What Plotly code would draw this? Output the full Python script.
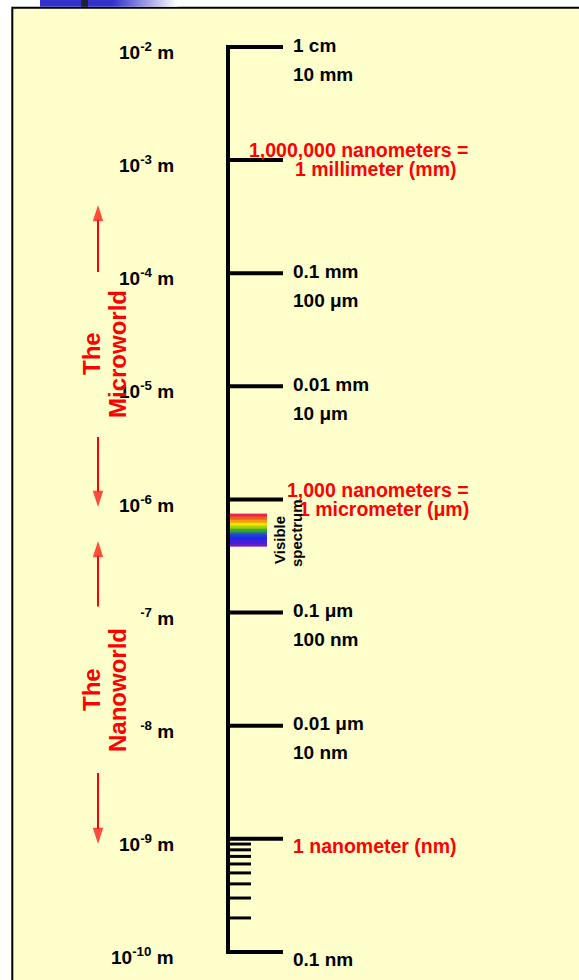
import math
import plotly.graph_objects as go

# ---------------- data ----------------
EXPONENTS = [-2, -3, -4, -5, -6, -7, -8, -9, -10]
DECADE_M = [10.0 ** e for e in EXPONENTS]
LEFT_LABELS = ["10<sup>-2</sup> m", "10<sup>-3</sup> m", "10<sup>-4</sup> m", "10<sup>-5</sup> m",
               "10<sup>-6</sup> m", "10<sup>-7</sup> m", "10<sup>-8</sup> m", "10<sup>-9</sup> m",
               "10<sup>-10</sup> m"]
RIGHT_LINE1 = ["1 cm", "1,000,000 nanometers =", "0.1 mm", "0.01 mm", "1,000 nanometers =",
               "0.1 μm", "0.01 μm", "1 nanometer (nm)", "0.1 nm"]
RIGHT_LINE2 = ["10 mm", "1 millimeter (mm)", "100 μm", "10 μm", "1 micrometer (μm)",
               "100 nm", "10 nm", "", ""]
IS_RED = [False, True, False, False, True, False, False, True, False]
MINOR_M = [9e-10, 8e-10, 7e-10, 6e-10, 5e-10, 4e-10, 3e-10, 2e-10]

# visible spectrum bands (nm edges) and colours, violet -> red
SPECTRUM_EDGES_NM = [380, 410, 440, 465, 495, 525, 555, 590, 625, 660, 700, 730, 750]
SPECTRUM_COLORS = ["#6A1FC4", "#4020DC", "#2424E4", "#2040D8", "#24806A", "#38A838",
                   "#A8D008", "#F4E400", "#F49A10", "#F06020", "#EC3030", "#DC2070"]

WORLDS = ["Microworld", "Nanoworld"]

# ---------------- style / layout constants ----------------
FONT = "Liberation Sans, Arial, sans-serif"
BG = "#FFFFCC"
RED = "#FF0000"
W, H = 579, 980
TOP_PX, PX_PER_DEC = 47.0, 113.125


def px2log(p):
    return -2.0 - (p - TOP_PX) / PX_PER_DEC


def px2paper(p):
    return 1.0 - p / H


RULER_X, MAJOR_X, MINOR_X = 228, 283, 251

fig = go.Figure()

# ruler spine plus end ticks
fig.add_trace(go.Scatter(
    x=[MAJOR_X, RULER_X, RULER_X, MAJOR_X],
    y=[DECADE_M[0], DECADE_M[0], DECADE_M[-1], DECADE_M[-1]],
    mode="lines", line=dict(color="black", width=4), hoverinfo="skip", showlegend=False))

# inner major ticks
mx, my = [], []
for v in DECADE_M[1:-1]:
    mx += [RULER_X, MAJOR_X, None]
    my += [v, v, None]
fig.add_trace(go.Scatter(x=mx, y=my, mode="lines", line=dict(color="black", width=4),
                         hoverinfo="skip", showlegend=False))

# minor ticks between 1e-9 and 1e-10
nx, ny = [], []
for v in MINOR_M:
    nx += [RULER_X, MINOR_X, None]
    ny += [v, v, None]
fig.add_trace(go.Scatter(x=nx, y=ny, mode="lines", line=dict(color="black", width=3),
                         hoverinfo="skip", showlegend=False))

# visible spectrum as a banded heatmap
n = len(SPECTRUM_COLORS)
cs = []
for i, c in enumerate(SPECTRUM_COLORS):
    cs.append([i / (n - 1), c])
fig.add_trace(go.Heatmap(
    x=[230, 267],
    y=[nm * 1e-9 for nm in SPECTRUM_EDGES_NM],
    z=[[i] for i in range(n)],
    zmin=0, zmax=n - 1, colorscale=cs, showscale=False, hoverinfo="skip"))

# arrows (tail exponent, tip exponent)
ARROWS = [(px2log(272), px2log(205)), (px2log(437), px2log(507)),
          (px2log(608), px2log(541)), (px2log(773), px2log(844))]
for tail, tip in ARROWS:
    fig.add_trace(go.Scatter(
        x=[98, 98], y=[10 ** tail, 10 ** tip], mode="lines+markers",
        line=dict(color=RED, width=2),
        marker=dict(symbol=["circle", "arrow"], size=[0, 17], color=RED, angleref="previous",
                    line=dict(width=0)),
        hoverinfo="skip", showlegend=False))

ann = []
# left decade labels
for v, lab in zip(DECADE_M, LEFT_LABELS):
    ann.append(dict(x=176, y=math.log10(v), xref="x", yref="y", text="<b>" + lab + "</b>",
                    showarrow=False, xanchor="right", yanchor="middle", yshift=-4,
                    font=dict(family=FONT, size=19, color="black")))

# right labels
RED_X1 = {1: 247, 4: 285}
RED_X2 = {1: 293, 4: 297}
for i, v in enumerate(DECADE_M):
    lv = math.log10(v)
    col = RED if IS_RED[i] else "black"
    l1, l2 = RIGHT_LINE1[i], RIGHT_LINE2[i]
    if l2:
        if IS_RED[i]:
            ann.append(dict(x=RED_X1[i], y=lv, xref="x", yref="y", text="<b>" + l1 + "</b>",
                            showarrow=False, xanchor="left", yanchor="middle", yshift=10,
                            font=dict(family=FONT, size=19.5, color=col)))
            ann.append(dict(x=RED_X2[i], y=lv, xref="x", yref="y", text="<b>" + l2 + "</b>",
                            showarrow=False, xanchor="left", yanchor="middle", yshift=-9,
                            font=dict(family=FONT, size=19.5, color=col)))
        else:
            ann.append(dict(x=291, y=lv, xref="x", yref="y", text="<b>" + l1 + "</b>",
                            showarrow=False, xanchor="left", yanchor="middle", yshift=2,
                            font=dict(family=FONT, size=19, color=col)))
            ann.append(dict(x=291, y=lv, xref="x", yref="y", text="<b>" + l2 + "</b>",
                            showarrow=False, xanchor="left", yanchor="middle", yshift=-27,
                            font=dict(family=FONT, size=19, color=col)))
    else:
        ann.append(dict(x=291, y=lv, xref="x", yref="y", text="<b>" + l1 + "</b>",
                        showarrow=False, xanchor="left", yanchor="middle", yshift=-7,
                        font=dict(family=FONT, size=19.5 if IS_RED[i] else 19, color=col)))

# visible spectrum caption
ann.append(dict(x=279, y=px2log(540), xref="x", yref="y", text="<b>Visible</b>", textangle=-90,
                showarrow=False, xanchor="center", yanchor="middle",
                font=dict(family=FONT, size=15, color="black")))
ann.append(dict(x=296, y=px2log(533), xref="x", yref="y", text="<b>spectrum</b>", textangle=-90,
                showarrow=False, xanchor="center", yanchor="middle",
                font=dict(family=FONT, size=15, color="black")))

# Microworld (transparent)
ann.append(dict(x=91, y=px2log(354), xref="x", yref="y", text="<b>The</b>", textangle=-90,
                showarrow=False, font=dict(family=FONT, size=24, color=RED)))
ann.append(dict(x=117, y=px2log(354), xref="x", yref="y", text="<b>" + WORLDS[0] + "</b>",
                textangle=-90, showarrow=False, font=dict(family=FONT, size=24, color=RED)))

# Nanoworld text box (opaque, hides part of the labels beneath)
ann.append(dict(x=107, y=px2log(683.5), xref="x", yref="y", text=" ", width=66, height=153,
                bgcolor=BG, borderpad=0, showarrow=False, font=dict(size=4)))
ann.append(dict(x=91, y=px2log(690), xref="x", yref="y", text="<b>The</b>", textangle=-90,
                showarrow=False, font=dict(family=FONT, size=24, color=RED)))
ann.append(dict(x=117, y=px2log(690), xref="x", yref="y", text="<b>" + WORLDS[1] + "</b>",
                textangle=-90, showarrow=False, font=dict(family=FONT, size=24, color=RED)))

shapes = [
    dict(type="rect", xref="x", yref="paper", x0=12.3, x1=600, y0=-0.05, y1=px2paper(7.7),
         line=dict(color="black", width=2), fillcolor=BG, layer="below"),
    dict(type="rect", xref="x", yref="paper", x0=40, x1=113, y0=px2paper(6.7), y1=1.0,
         line=dict(width=0), fillcolor="#3333CC", layer="below"),
]
steps = 32
for k in range(steps):
    t = (k + 0.5) / steps
    r = int(0x33 + (255 - 0x33) * t)
    g = int(0x33 + (255 - 0x33) * t)
    b = int(0xCC + (255 - 0xCC) * t)
    shapes.append(dict(type="rect", xref="x", yref="paper", x0=113 + k * 2, x1=113 + (k + 1) * 2 + 0.5,
                       y0=px2paper(6.7), y1=1.0, line=dict(width=0),
                       fillcolor="rgb(%d,%d,%d)" % (r, g, b), layer="below"))
shapes.append(dict(type="rect", xref="x", yref="paper", x0=81, x1=88, y0=px2paper(6.7), y1=1.0,
                   line=dict(width=0), fillcolor="#222233", layer="below"))

fig.update_layout(
    width=W, height=H, margin=dict(l=0, r=0, t=0, b=0),
    paper_bgcolor="white", plot_bgcolor="rgba(0,0,0,0)",
    xaxis=dict(range=[0, W], visible=False, fixedrange=True),
    yaxis=dict(type="log", range=[px2log(H), px2log(0)], visible=False, fixedrange=True),
    showlegend=False, annotations=ann, shapes=shapes,
)

fig.write_html("out.html", config={"displayModeBar": False},
               post_script="document.body.style.margin='0';document.body.style.overflow='hidden';")
